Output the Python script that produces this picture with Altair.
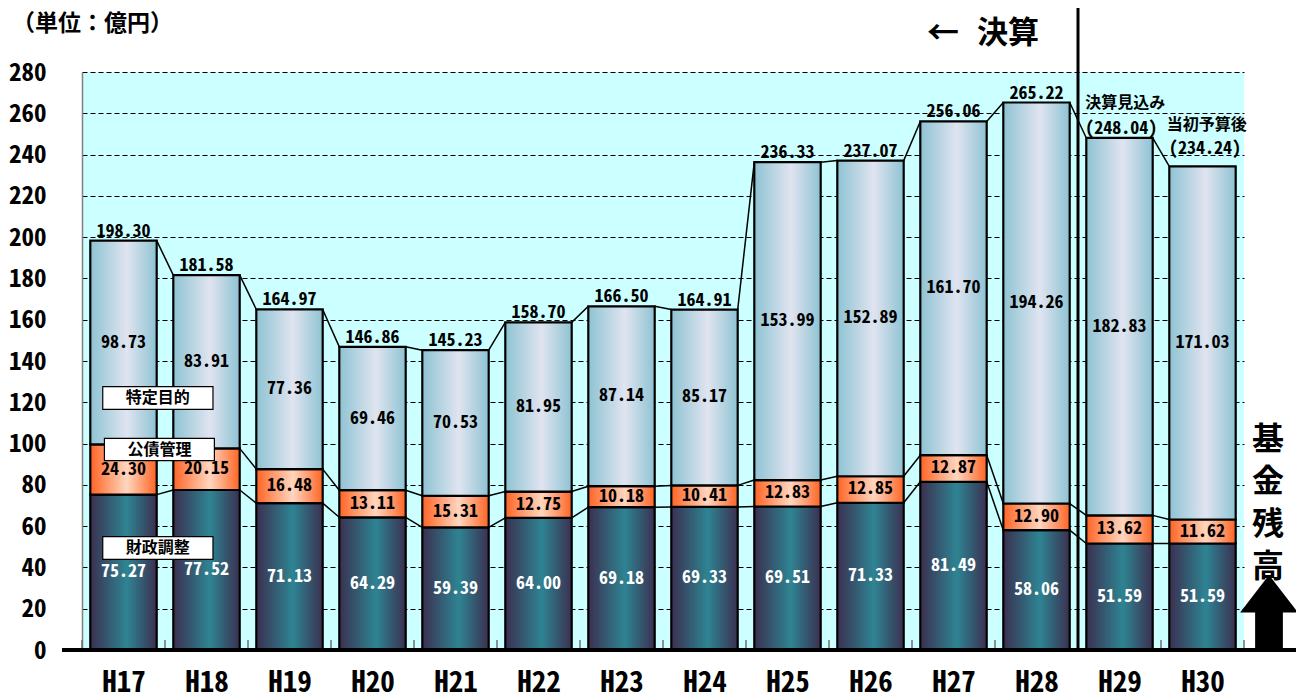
import json
import altair as alt
import pandas as pd

# ---------------- data ----------------
labels = ["H17", "H18", "H19", "H20", "H21", "H22", "H23", "H24", "H25", "H26", "H27", "H28", "H29", "H30"]
fiscal = [75.27, 77.52, 71.13, 64.29, 59.39, 64.00, 69.18, 69.33, 69.51, 71.33, 81.49, 58.06, 51.59, 51.59]
debt = [24.30, 20.15, 16.48, 13.11, 15.31, 12.75, 10.18, 10.41, 12.83, 12.85, 12.87, 12.90, 13.62, 11.62]
specific = [98.73, 83.91, 77.36, 69.46, 70.53, 81.95, 87.14, 85.17, 153.99, 152.89, 161.70, 194.26, 182.83, 171.03]
totals = [198.30, 181.58, 164.97, 146.86, 145.23, 158.70, 166.50, 164.91, 236.33, 237.07, 256.06, 265.22, 248.04, 234.24]
y_ticks = list(range(0, 281, 20))

seg_names = ["財政調整", "公債管理", "特定目的"]
note_h29 = ["決算見込み", "(248.04)"]
note_h30 = ["当初予算後", "(234.24)"]

NUM_FONT = "Noto Sans Mono CJK JP, DejaVu Sans Mono, monospace"
JP_FONT = "Noto Sans CJK JP"

n = len(labels)
idx = list(range(n))
half = 0.4

c1 = fiscal
c2 = [a + b for a, b in zip(fiscal, debt)]
c3 = [a + b for a, b in zip(c2, specific)]


def seg_df(lo, hi, vals):
    return pd.DataFrame({
        "i": idx,
        "x0": [i - half for i in idx],
        "x1": [i + half for i in idx],
        "lo": lo,
        "hi": hi,
        "mid": [(a + b) / 2 for a, b in zip(lo, hi)],
        "val": vals,
    })


df_f = seg_df([0] * n, c1, fiscal)
df_d = seg_df(c1, c2, debt)
df_s = seg_df(c2, c3, specific)

xs = alt.Scale(domain=[-0.5, n - 0.5], nice=False, zero=False)
ys = alt.Scale(domain=[0, 280], nice=False)

label_expr = json.dumps(labels) + "[datum.value]"

x_axis = alt.Axis(
    values=idx, labelExpr=label_expr, title=None, ticks=False, domain=False, grid=False,
    labelFont=NUM_FONT, labelFontSize=29, labelFontWeight="bold", labelColor="black",
    labelPadding=18,
)
y_axis = alt.Axis(
    values=y_ticks, title=None, ticks=False, grid=True, gridDash=[5, 3], gridColor="black",
    gridWidth=1.2, gridOpacity=1, domain=True, domainColor="#808080", domainWidth=1.5,
    labelFont=NUM_FONT, labelFontSize=25, labelFontWeight="bold", labelColor="black",
    labelPadding=36,
)


def X(f):
    return alt.X(f, scale=xs, axis=x_axis)


def Y(f):
    return alt.Y(f, scale=ys, axis=y_axis)


def grad(stops):
    return alt.Gradient(
        gradient="linear",
        x1=0, x2=1, y1=0, y2=0,
        stops=[alt.GradientStop(color=c, offset=o) for o, c in stops],
    )


g_f = grad([(0, "#3b3050"), (0.55, "#2e8493"), (1, "#3b3050")])
g_d = grad([(0, "#ff6424"), (0.55, "#ffd6bf"), (1, "#ff6424")])
g_s = grad([(0, "#8ec3d3"), (0.55, "#e0e4f0"), (1, "#8ec3d3")])


def bars(df, fill):
    return alt.Chart(df).mark_rect(fill=fill, stroke="black", strokeWidth=2.2).encode(
        x=X("x0:Q"), x2="x1:Q", y=Y("lo:Q"), y2="hi:Q",
    )


def seg_text(df, color):
    return alt.Chart(df).mark_text(
        font=NUM_FONT, fontSize=18, fontWeight="bold", color=color, baseline="middle"
    ).encode(
        x=X("i:Q"), y=Y("mid:Q"), text=alt.Text("val:Q", format=".2f"),
    )


# connectors between bars
rows = []
for level in (c1, c2, c3):
    for i in range(n - 1):
        rows.append({"xa": i + half, "xb": i + 1 - half, "ya": level[i], "yb": level[i + 1]})
df_conn = pd.DataFrame(rows)
conn = alt.Chart(df_conn).mark_rule(color="black", strokeWidth=1.5).encode(
    x=X("xa:Q"), x2="xb:Q", y=Y("ya:Q"), y2="yb:Q"
)

# totals
df_tot = pd.DataFrame({"i": idx[:12], "t": totals[:12]})
tot_text = alt.Chart(df_tot).mark_text(
    font=NUM_FONT, fontSize=18, fontWeight="bold", color="black", baseline="alphabetic", dy=-4
).encode(x=X("i:Q"), y=Y("t:Q"), text=alt.Text("t:Q", format=".2f"))

# notes for H29 / H30
df_note_jp = pd.DataFrame({"x": [12.07, 13.05], "y": [265.2, 254.2], "t": [note_h29[0], note_h30[0]]})
df_note_num = pd.DataFrame({"x": [12.02, 13.03], "y": [252.6, 242.6], "t": [note_h29[1], note_h30[1]]})
note_jp = alt.Chart(df_note_jp).mark_text(
    font=JP_FONT, fontSize=16, fontWeight="bold", color="black", baseline="middle"
).encode(x=X("x:Q"), y=Y("y:Q"), text="t:N")
note_num = alt.Chart(df_note_num).mark_text(
    font=NUM_FONT, fontSize=18, fontWeight="bold", color="black", baseline="middle"
).encode(x=X("x:Q"), y=Y("y:Q"), text="t:N")

# series label boxes
df_box = pd.DataFrame({
    "name": [seg_names[2], seg_names[1], seg_names[0]],
    "xa": [-0.25, -0.23, -0.25],
    "xb": [1.078, 1.095, 1.078],
    "ya": [116.6, 91.7, 43.9],
    "yb": [127.6, 102.5, 54.9],
})
df_box["xm"] = (df_box["xa"] + df_box["xb"]) / 2
df_box["ym"] = (df_box["ya"] + df_box["yb"]) / 2
box = alt.Chart(df_box).mark_rect(fill="white", stroke="black", strokeWidth=1.2).encode(
    x=X("xa:Q"), x2="xb:Q", y=Y("ya:Q"), y2="yb:Q"
)
box_text = alt.Chart(df_box).mark_text(
    font=JP_FONT, fontSize=16, fontWeight="bold", color="black", baseline="middle"
).encode(x=X("xm:Q"), y=Y("ym:Q"), text="name:N")

one = pd.DataFrame({"a": [0]})

# divider between settled and estimated years
df_div = pd.DataFrame({"x": [11.5], "y": [0]})
divider = alt.Chart(df_div).mark_rule(color="black", strokeWidth=3).encode(
    x=X("x:Q"), y=Y("y:Q"), y2=alt.value(-67)
)

# small boundary ticks at baseline
df_bt = pd.DataFrame({"x": [i - 0.5 for i in range(n + 1)]})
btick = alt.Chart(df_bt).mark_rule(color="#707070", strokeWidth=1.5).encode(
    x=X("x:Q"), y=alt.value(568), y2=alt.value(578)
)

# baseline
baseline = alt.Chart(one).mark_rule(color="black", strokeWidth=4).encode(
    x=alt.value(-20), x2=alt.value(1214), y=alt.value(578)
)

# texts outside plot
unit = alt.Chart(one).mark_text(
    text="（単位：億円）", font=JP_FONT, fontSize=23, fontWeight="bold", align="left", baseline="middle"
).encode(x=alt.value(-70), y=alt.value(-48))
arrow_l = alt.Chart(one).mark_text(
    text="←", font=JP_FONT, fontSize=32, fontWeight="bold", align="center", baseline="middle"
).encode(x=alt.value(861), y=alt.value(-38))
kessan = alt.Chart(one).mark_text(
    text="決算", font=JP_FONT, fontSize=31, fontWeight="bold", align="left", baseline="middle"
).encode(x=alt.value(895), y=alt.value(-38))

df_side = pd.DataFrame({"c": list("基金残高"), "py": [368, 410, 453, 495]})
side = alt.Chart(df_side).mark_text(
    font=JP_FONT, fontSize=32, fontWeight="bold", color="black", baseline="middle"
).encode(x=alt.value(1186), y=alt.Y("py:Q", scale=None), text="c:N")

arrow_path = "M0,-1L0.77,0L0.37,0L0.37,1L-0.37,1L-0.37,0L-0.77,0Z"
up_arrow = alt.Chart(one).mark_point(
    shape=arrow_path, size=5625, filled=True, color="black", opacity=1, strokeWidth=0
).encode(x=alt.value(1187), y=alt.value(540.5))

chart = alt.layer(
    bars(df_f, g_f), bars(df_d, g_d), bars(df_s, g_s),
    conn,
    seg_text(df_f, "white"), seg_text(df_d, "black"), seg_text(df_s, "black"),
    tot_text, note_jp, note_num,
    box, box_text,
    btick, divider, baseline,
    unit, arrow_l, kessan, side, up_arrow,
).properties(
    width=1162, height=578,
    padding={"left": 74, "top": 64, "right": 52, "bottom": 50},
    autosize=alt.AutoSizeParams(type="none"),
    background="white",
).configure_view(stroke=None, fill="#ccffff")

chart.save("out.html", embed_options={"renderer": "svg", "actions": False})
